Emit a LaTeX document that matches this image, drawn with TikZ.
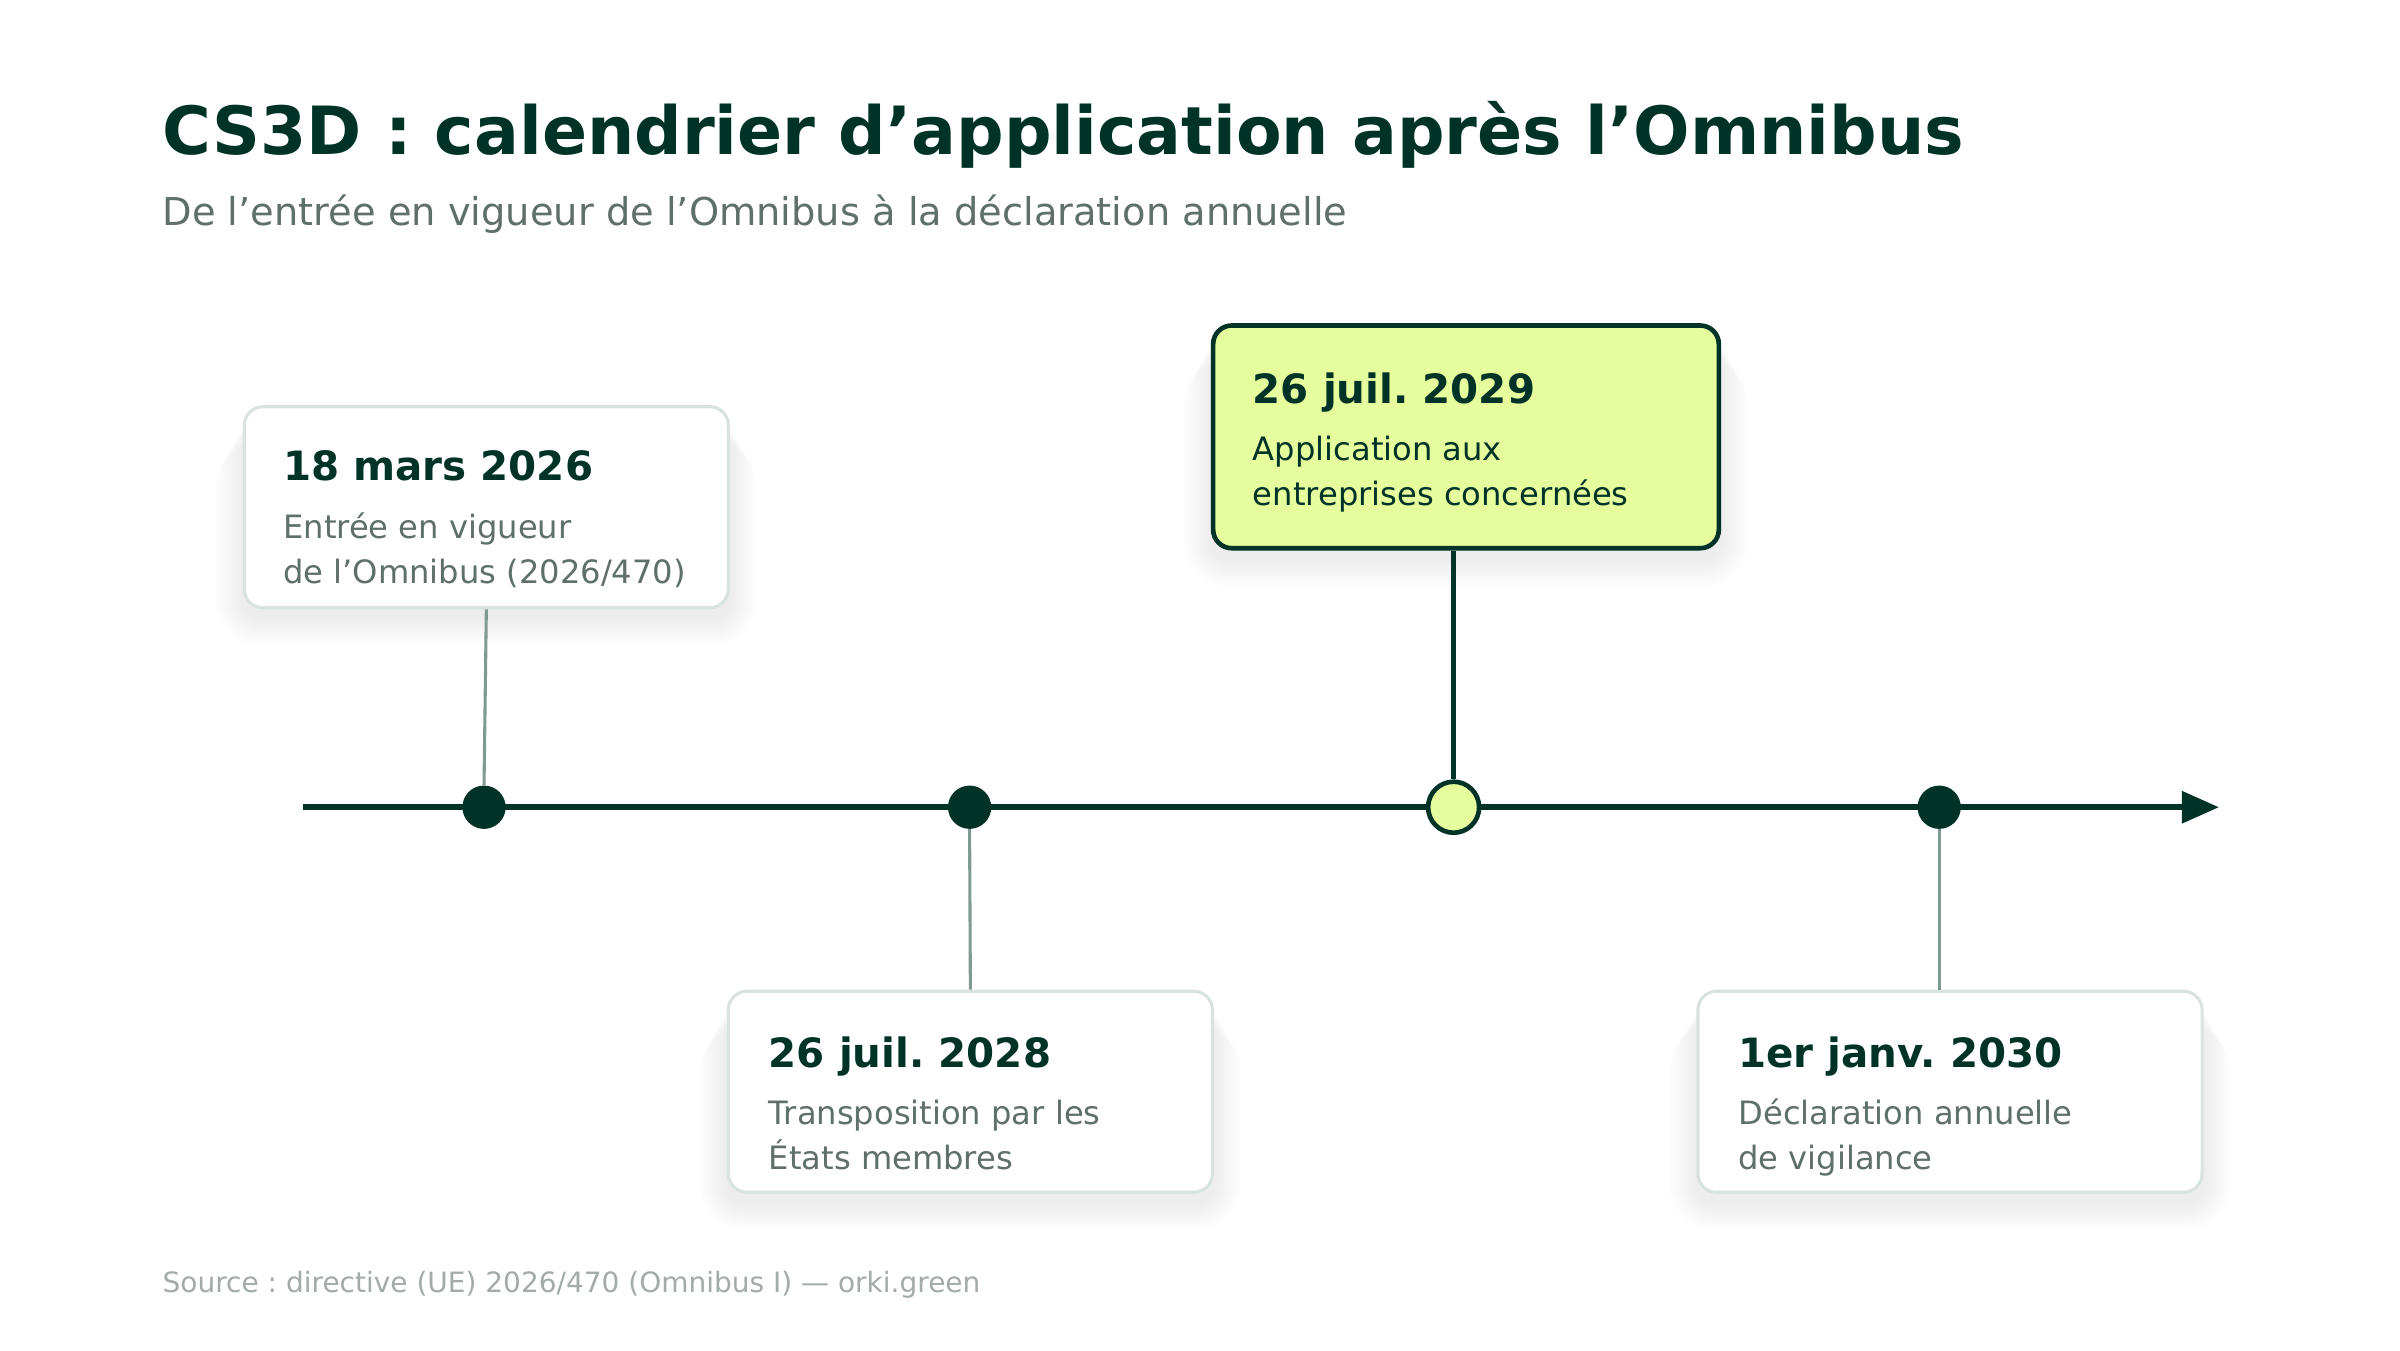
\documentclass[tikz,border=0pt]{standalone}
\usepackage{fontspec}
\setmainfont{DejaVu Sans}
\usetikzlibrary{arrows.meta}
\definecolor{dk}{HTML}{003328}
\definecolor{graytxt}{HTML}{5F6F6A}
\definecolor{conn}{HTML}{7F9A92}
\definecolor{bordc}{HTML}{D8E3E0}
\definecolor{lime}{HTML}{E6FD9E}
\definecolor{foot}{HTML}{A3ABA8}
\pgfdeclarelayer{bgpaper}
\pgfdeclarelayer{shadowlayer}
\pgfsetlayers{bgpaper,shadowlayer,main}
\frenchspacing
\begin{document}
\begin{tikzpicture}[x=1pt,y=-1pt,
  cardbox/.style={draw=bordc, line width=2pt, fill=white, rounded corners=12pt,
    inner sep=0pt, minimum width=313pt, minimum height=130pt, anchor=north west},
  hibox/.style={cardbox, draw=dk, line width=3pt, fill=lime, minimum width=327pt, minimum height=144pt},
  datetext/.style={anchor=base west, inner sep=0pt, text=dk, font=\bfseries\fontsize{26.1}{31}\selectfont},
  bodytext/.style={anchor=base west, inner sep=0pt, align=left, text=graytxt, font=\fontsize{20.8}{29}\selectfont},
  dot/.style={circle, fill=dk, minimum size=28pt, inner sep=0pt},
  hidot/.style={circle, draw=dk, line width=3pt, fill=lime, minimum size=33pt, inner sep=0pt},
  thinconn/.style={draw=conn, line width=2pt},
  thickconn/.style={draw=dk, line width=3pt}]
\begin{pgfonlayer}{bgpaper}
\fill[white] (0,0) rectangle (1552,873);
\end{pgfonlayer}
\useasboundingbox (0,0) rectangle (1552,873);

% title
\node[anchor=base west, inner sep=0pt, text=dk, font=\bfseries\fontsize{43}{50}\selectfont] (title) at (105,100) {CS3D : calendrier d’application après l’Omnibus};
\node[anchor=base west, inner sep=0pt, text=graytxt, font=\fontsize{24.8}{30}\selectfont] (subtitle) at (105,146) {De l’entrée en vigueur de l’Omnibus à la déclaration annuelle};

% axis
\coordinate (axs) at (196,522);
\coordinate (axe) at (1435,522);
\draw[dk, line width=4pt, -{Triangle[length=24pt,width=20pt]}] (axs) -- (axe);

% cards
\node[cardbox] (b1) at (157,262) {};
\node[cardbox] (b2) at (470,640) {};
\node[hibox] (b3) at (783,209) {};
\node[cardbox, minimum width=326pt] (b4) at (1097,640) {};

% soft shadows
\begin{pgfonlayer}{shadowlayer}
\foreach \b in {b1,b2,b3,b4}{
  \foreach \i [evaluate=\i as \r using 12+\i] in {1,...,18}{
    \fill[black, opacity=0.0045, rounded corners=\r pt]
      ([shift={(-\i,\i+6)}]\b.north west) rectangle ([shift={(\i,\i+6)}]\b.south east);
  }
}
\end{pgfonlayer}

% dots
\node[dot] (d1) at (313,522) {};
\node[dot] (d2) at (627,522) {};
\node[hidot] (d3) at (940,522) {};
\node[dot] (d4) at (1254,522) {};

% connectors
\draw[thinconn] (b1.south) -- (d1.north);
\draw[thinconn] (d2.south) -- (b2.north);
\draw[thickconn] (b3.south -| d3) -- (d3.north);
\draw[thinconn] (d4.south) -- (d4 |- b4.north);

% texts (body nodes anchored at the baseline of their last line)
\node[datetext] (t1) at (183,311) {18 mars 2026};
\node[bodytext] (s1) at (183,377) {Entrée en vigueur\\de l’Omnibus (2026/470)};
\node[datetext] (t2) at (497,690) {26 juil. 2028};
\node[bodytext] (s2) at (497,756) {Transposition par les\\États membres};
\node[datetext] (t3) at (810,261) {26 juil. 2029};
\node[bodytext, text=dk] (s3) at (810,327) {Application aux\\entreprises concernées};
\node[datetext] (t4) at (1124,690) {1er janv. 2030};
\node[bodytext] (s4) at (1124,756) {Déclaration annuelle\\de vigilance};

% footer
\node[anchor=base west, inner sep=0pt, text=foot, font=\fontsize{18.1}{22}\selectfont] (src) at (105,836) {Source : directive (UE) 2026/470 (Omnibus I) — orki.green};
\end{tikzpicture}
\end{document}
